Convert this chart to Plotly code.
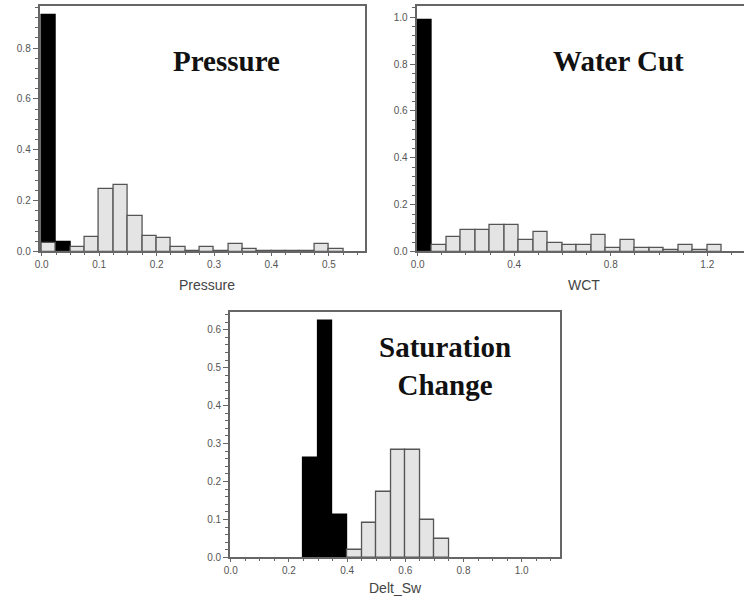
import plotly.graph_objects as go

# ---------------- data ----------------
# Pressure panel: bin width 0.025 starting at 0.0
p_width = 0.025
p_black = [0.93, 0.039]
p_gray = [0.035, 0.0, 0.018, 0.058, 0.247, 0.262, 0.139, 0.061, 0.052, 0.018,
          0.003, 0.018, 0.003, 0.029, 0.009, 0.003, 0.003, 0.003, 0.003, 0.029, 0.009]

# Water cut panel: bin width 0.06 starting at 0.0
w_width = 0.06
w_black = [0.99]
w_gray = [0.0, 0.028, 0.062, 0.092, 0.092, 0.113, 0.113, 0.049, 0.083, 0.038, 0.028,
          0.028, 0.07, 0.017, 0.048, 0.017, 0.014, 0.006, 0.028, 0.006, 0.028]

# Saturation change panel: bin width 0.05
s_width = 0.05
s_black_start = 0.25
s_black = [0.263, 0.624, 0.111]
s_gray_start = 0.40
s_gray = [0.019, 0.090, 0.172, 0.283, 0.283, 0.098, 0.048]

titles = ["Pressure", "Water Cut", "Saturation<br>Change"]
x_titles = ["Pressure", "WCT", "Delt_Sw"]

# ---------------- helpers ----------------
def centers(start, width, n):
    return [start + width * (i + 0.5) for i in range(n)]

BLACK = "#000000"
GRAY_FILL = "#e4e4e4"
GRAY_LINE = "#555555"
FRAME = "#666666"
TICKC = "#555555"

fig = go.Figure()

def add_hist(vals, start, width, color, line, xa, ya):
    fig.add_trace(go.Bar(
        x=centers(start, width, len(vals)), y=vals, width=[width] * len(vals),
        marker=dict(color=color, line=dict(color=line, width=1.3)),
        xaxis=xa, yaxis=ya, showlegend=False, hoverinfo="skip"))

add_hist(p_black, 0.0, p_width, BLACK, BLACK, "x", "y")
add_hist(p_gray, 0.0, p_width, GRAY_FILL, GRAY_LINE, "x", "y")
add_hist(w_black, 0.0, w_width, BLACK, BLACK, "x2", "y2")
add_hist(w_gray, 0.0, w_width, GRAY_FILL, GRAY_LINE, "x2", "y2")
add_hist(s_black, s_black_start, s_width, BLACK, BLACK, "x3", "y3")
add_hist(s_gray, s_gray_start, s_width, GRAY_FILL, GRAY_LINE, "x3", "y3")

W, H = 744, 606

def px(x):
    return x / W

def py(y):
    return 1 - y / H

tickfont = dict(family="Liberation Sans, Arial", size=10, color=TICKC)

def xax(domain, rng, dtick, minor_dtick, anchor, mirror=True):
    return dict(domain=domain, range=rng, anchor=anchor, dtick=dtick, tick0=0,
                tickformat=".1f", ticks="outside", ticklen=3, tickcolor=FRAME,
                showline=True, linecolor=FRAME, linewidth=2, mirror=mirror,
                showgrid=False, zeroline=False, tickfont=tickfont,
                minor=dict(dtick=minor_dtick, tick0=0, ticks="outside", ticklen=2,
                           tickcolor=FRAME, showgrid=False),
                fixedrange=True)

def yax(domain, rng, dtick, minor_dtick, anchor, mirror=True):
    return dict(domain=domain, range=rng, anchor=anchor, dtick=dtick, tick0=0,
                tickformat=".1f", ticks="outside", ticklen=5, tickcolor=FRAME,
                showline=True, linecolor=FRAME, linewidth=2, mirror=mirror,
                showgrid=False, zeroline=False, tickfont=tickfont,
                minor=dict(dtick=minor_dtick, tick0=0, ticks="outside", ticklen=3,
                           tickcolor=FRAME, showgrid=False),
                fixedrange=True)

fig.update_layout(
    width=W, height=H,
    margin=dict(l=0, r=0, t=0, b=0),
    paper_bgcolor="white", plot_bgcolor="white",
    barmode="overlay", bargap=0,
    xaxis=xax([px(34), px(362)], [-0.0035, 0.563], 0.1, 0.025, "y"),
    yaxis=yax([py(254), py(6)], [0, 0.966], 0.2, 0.04, "x"),
    xaxis2=xax([px(414), 1.0], [-0.004, 1.352], 0.4, 0.1, "y2"),
    yaxis2=yax([py(254), py(6)], [0, 1.048], 0.2, 0.04, "x2", mirror=False),
    xaxis3=xax([px(226), px(558)], [-0.002, 1.13], 0.2, 0.05, "y3"),
    yaxis3=yax([py(563), py(315)], [0, 0.647], 0.1, 0.02, "x3"),
)

title_font = dict(family="Liberation Serif, Times New Roman", size=29, color="#111111")
title_pos = [(222, 62), (617, 62), (443, 370)]
for t, (x, y) in zip(titles, title_pos):
    fig.add_annotation(text="<b>" + t + "</b>", x=px(x), y=py(y), xref="paper", yref="paper",
                       showarrow=False, font=title_font, xanchor="center", yanchor="middle")

axt_font = dict(family="Liberation Sans, Arial", size=14, color="#444444")
axt_pos = [(203, 288), (583, 288), (393, 594)]
for t, (x, y) in zip(x_titles, axt_pos):
    fig.add_annotation(text=t, x=px(x), y=py(y), xref="paper", yref="paper",
                       showarrow=False, font=axt_font, xanchor="center", yanchor="middle")

fig.write_html("out.html")
